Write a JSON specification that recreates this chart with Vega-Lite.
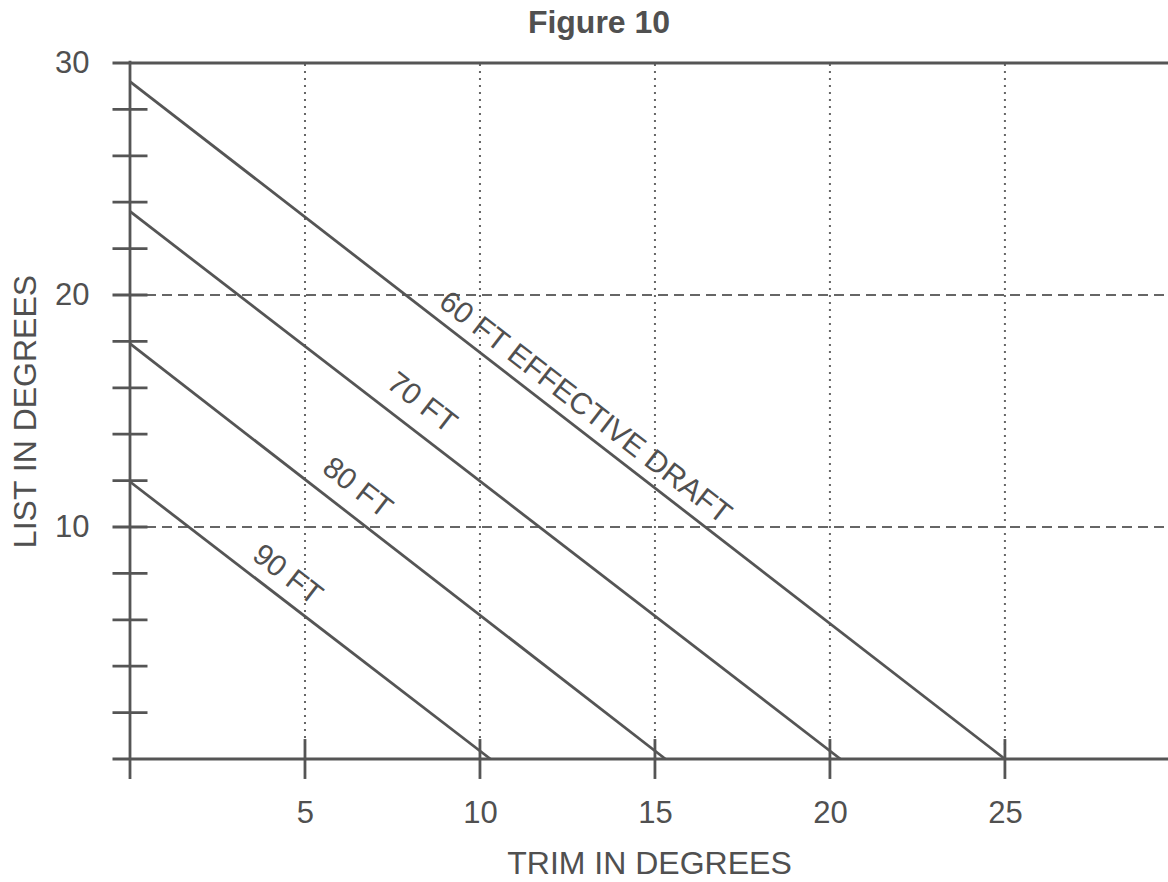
{
  "$schema": "https://vega.github.io/schema/vega-lite/v6.json",
  "description": "Figure 10: list versus trim for effective drafts of 60 to 90 ft.",
  "width": 1038,
  "height": 696,
  "autosize": {"type": "none"},
  "padding": {"left": 130, "top": 63, "right": 0, "bottom": 123},
  "background": "#ffffff",
  "title": {
    "text": "Figure 10",
    "font": "Liberation Sans",
    "fontSize": 32,
    "fontWeight": "bold",
    "color": "#505050",
    "anchor": "middle",
    "frame": "group",
    "dx": -50,
    "dy": 34,
    "baseline": "bottom",
    "offset": 9
  },
  "config": {
    "view": {"stroke": null},
    "axis": {
      "labelFont": "Liberation Sans",
      "titleFont": "Liberation Sans",
      "labelFontSize": 31,
      "titleFontSize": 32,
      "labelColor": "#505050",
      "titleColor": "#505050",
      "titleFontWeight": "normal",
      "ticks": false,
      "domain": false,
      "grid": false
    }
  },
  "datasets": {
    "curves": [
      {"draft": "90 FT", "trim": 0, "list": 11.95},
      {"draft": "90 FT", "trim": 10.3, "list": 0},
      {"draft": "80 FT", "trim": 0, "list": 17.9},
      {"draft": "80 FT", "trim": 15.3, "list": 0},
      {"draft": "70 FT", "trim": 0, "list": 23.6},
      {"draft": "70 FT", "trim": 20.3, "list": 0},
      {"draft": "60 FT", "trim": 0, "list": 29.2},
      {"draft": "60 FT", "trim": 25, "list": 0}
    ],
    "labels": [
      {"text": "60 FT EFFECTIVE DRAFT", "trim": 13.0, "list": 15.13},
      {"text": "70 FT", "trim": 8.34, "list": 15.34},
      {"text": "80 FT", "trim": 6.49, "list": 11.68},
      {"text": "90 FT", "trim": 4.49, "list": 7.93}
    ],
    "xgrid": [{"trim": 5}, {"trim": 10}, {"trim": 15}, {"trim": 20}, {"trim": 25}],
    "ygrid": [{"list": 10}, {"list": 20}],
    "frame": [{"list": 0}, {"list": 30}],
    "yticks": [
      {"list": 2}, {"list": 4}, {"list": 6}, {"list": 8}, {"list": 10},
      {"list": 12}, {"list": 14}, {"list": 16}, {"list": 18}, {"list": 20},
      {"list": 22}, {"list": 24}, {"list": 26}, {"list": 28}
    ]
  },
  "layer": [
    {
      "data": {"name": "xgrid"},
      "mark": {"type": "rule", "color": "#666666", "strokeWidth": 2, "strokeDash": [2, 5]},
      "encoding": {
        "x": {
          "field": "trim",
          "type": "quantitative",
          "scale": {"domain": [0, 29.66], "nice": false, "zero": false},
          "axis": {
            "values": [5, 10, 15, 20, 25],
            "title": "TRIM IN DEGREES",
            "labelPadding": 39,
            "titlePadding": 20
          }
        },
        "y": {
          "datum": 0,
          "type": "quantitative",
          "scale": {"domain": [0, 30], "nice": false, "zero": false},
          "axis": {
            "values": [10, 20, 30],
            "title": "LIST IN DEGREES",
            "labelPadding": 41,
            "titlePadding": 12
          }
        },
        "y2": {"datum": 30}
      }
    },
    {
      "data": {"name": "ygrid"},
      "mark": {"type": "rule", "color": "#666666", "strokeWidth": 2, "strokeDash": [10, 6]},
      "encoding": {
        "y": {"field": "list", "type": "quantitative"},
        "x": {"datum": 0, "type": "quantitative"},
        "x2": {"datum": 29.66}
      }
    },
    {
      "data": {"name": "frame"},
      "mark": {"type": "rule", "color": "#555555", "strokeWidth": 2.8},
      "encoding": {
        "y": {"field": "list", "type": "quantitative"},
        "x": {"datum": -0.5, "type": "quantitative"},
        "x2": {"datum": 29.66}
      }
    },
    {
      "data": {"values": [{"k": 1}]},
      "mark": {"type": "rule", "color": "#555555", "strokeWidth": 2.8},
      "encoding": {
        "x": {"datum": 0, "type": "quantitative"},
        "y": {"datum": -0.86, "type": "quantitative"},
        "y2": {"datum": 30.1}
      }
    },
    {
      "data": {"name": "yticks"},
      "mark": {"type": "rule", "color": "#555555", "strokeWidth": 2.8},
      "encoding": {
        "y": {"field": "list", "type": "quantitative"},
        "x": {"datum": -0.5, "type": "quantitative"},
        "x2": {"datum": 0.5}
      }
    },
    {
      "data": {"name": "xgrid"},
      "mark": {"type": "rule", "color": "#555555", "strokeWidth": 2.8},
      "encoding": {
        "x": {"field": "trim", "type": "quantitative"},
        "y": {"datum": -0.86, "type": "quantitative"},
        "y2": {"datum": 0.86}
      }
    },
    {
      "data": {"name": "curves"},
      "mark": {"type": "line", "color": "#555555", "strokeWidth": 2.8},
      "encoding": {
        "x": {"field": "trim", "type": "quantitative"},
        "y": {"field": "list", "type": "quantitative"},
        "detail": {"field": "draft"}
      }
    },
    {
      "data": {"name": "labels"},
      "mark": {
        "type": "text",
        "font": "Liberation Sans",
        "fontSize": 30,
        "color": "#505050",
        "angle": 37.7,
        "align": "center",
        "baseline": "middle"
      },
      "encoding": {
        "x": {"field": "trim", "type": "quantitative"},
        "y": {"field": "list", "type": "quantitative"},
        "text": {"field": "text"}
      }
    }
  ]
}
